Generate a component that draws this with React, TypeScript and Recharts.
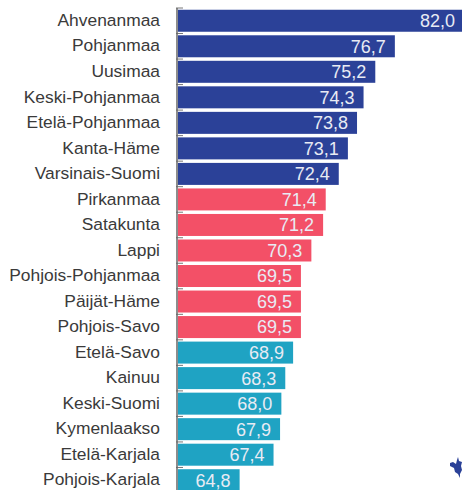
import React from "react";
import { BarChart, Bar, XAxis, YAxis, Cell, LabelList } from "recharts";

const regions = ["Ahvenanmaa","Pohjanmaa","Uusimaa","Keski-Pohjanmaa","Etelä-Pohjanmaa","Kanta-Häme","Varsinais-Suomi","Pirkanmaa","Satakunta","Lappi","Pohjois-Pohjanmaa","Päijät-Häme","Pohjois-Savo","Etelä-Savo","Kainuu","Keski-Suomi","Kymenlaakso","Etelä-Karjala","Pohjois-Karjala"];
const values = [82.0,76.7,75.2,74.3,73.8,73.1,72.4,71.4,71.2,70.3,69.5,69.5,69.5,68.9,68.3,68.0,67.9,67.4,64.8];
const groups = ["blue","blue","blue","blue","blue","blue","blue","red","red","red","red","red","red","teal","teal","teal","teal","teal","teal"];
const palette: Record<string,string> = { blue: "#2B4198", red: "#F35067", teal: "#1FA3C3" };
const data = regions.map((name, i) => ({ name, value: values[i], group: groups[i] }));
const FONT = "'Liberation Sans', Arial, sans-serif";

const BarWithTick = (props: any) => {
  const { x, y, width, height, fill } = props;
  return (
    <g>
      <line x1={x - 1} x2={x + 6} y1={y - 1.75} y2={y - 1.75} stroke="#777" strokeWidth={1} />
      <rect x={x + 1} y={y} width={width - 1} height={height} fill={fill} />
    </g>
  );
};

export default function App() {
  return (
    <div style={{ position: "absolute", left: 0, top: 0, width: 462, height: 490, overflow: "hidden", background: "#fff" }}>
      <BarChart
        width={464}
        height={493}
        data={data}
        layout="vertical"
        barCategoryGap={1.75}
        margin={{ top: 8, right: 0, bottom: 0, left: 0 }}
      >
        <XAxis type="number" domain={[60, 82]} hide />
        <YAxis
          type="category"
          dataKey="name"
          width={177}
          interval={0}
          tickLine={false}
          axisLine={{ stroke: "#666", strokeWidth: 1.5 }}
          tickMargin={11}
          tick={{ fill: "#3a3a3a", fontSize: 17.4, fontFamily: FONT, dy: -1 }}
        />
        <Bar dataKey="value" isAnimationActive={false} shape={<BarWithTick />}>
          {data.map((d) => (
            <Cell key={d.name} fill={palette[d.group]} />
          ))}
          <LabelList
            dataKey="value"
            position="insideRight"
            offset={9}
            formatter={(v: any) => Number(v).toFixed(1).replace(".", ",")}
            style={{ fill: "#E8EBF4", fontSize: 18, fontFamily: FONT }}
          />
        </Bar>
      </BarChart>
      <svg width={14} height={22} style={{ position: "absolute", left: 449, top: 457 }}>
        <path d="M9 0 L10 4 L13 5 L12 9 L13 13 L11 17 L11 21 L9 17 L6 15 L5 11 L3 10 L1 9 L1 6 L4 5 L7 7 L8 3 Z" fill="#2B4198" />
      </svg>
    </div>
  );
}
